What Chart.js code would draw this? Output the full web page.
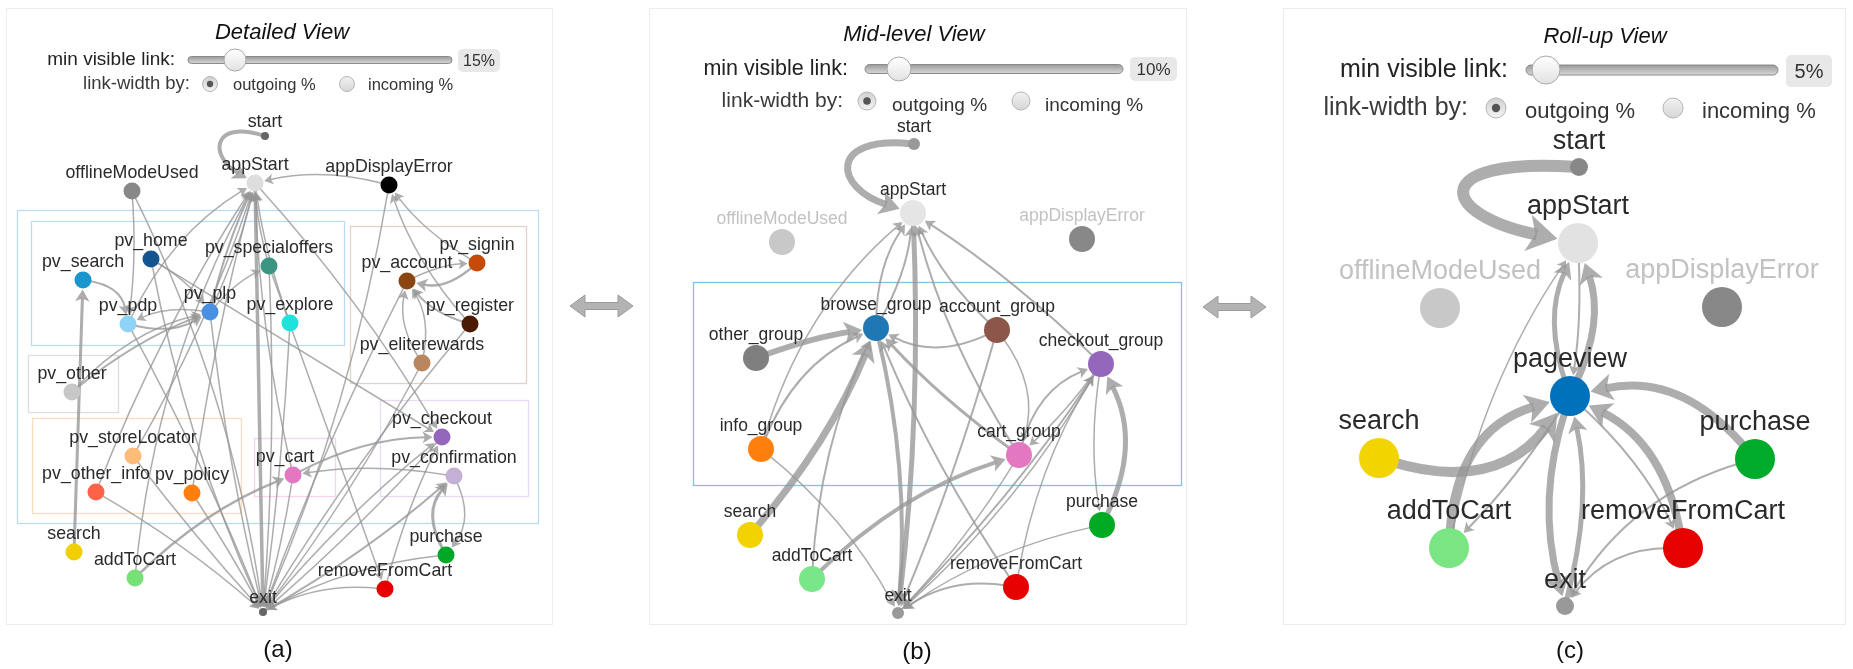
<!DOCTYPE html>
<html><head><meta charset="utf-8">
<script src="https://cdn.jsdelivr.net/npm/chart.js@4.4.1/dist/chart.umd.min.js"></script>
<style>html,body{margin:0;padding:0;background:#fff;overflow:hidden}canvas{display:block}</style>
</head><body>
<canvas id="c" width="1853" height="669"></canvas>
<script>
// ---------------- DATA ----------------
// Panel (a) Detailed View: node names and layout coordinates
const namesA = ['start','appStart','offlineModeUsed','appDisplayError','pv_home','pv_search','pv_specialoffers','pv_plp','pv_pdp','pv_explore','pv_signin','pv_account','pv_register','pv_eliterewards','pv_other','pv_storeLocator','pv_other_info','pv_policy','pv_cart','pv_checkout','pv_confirmation','search','addToCart','purchase','removeFromCart','exit'];
const xA = [265,255,132,389,151,83,269,210,128,290,477,407,470,422,72,133,96,192,293,442,454,74,135,446,385,263];
const yA = [136,183,191,185,259,280,266,312,324,323,263,281,324,363,392,456,492,493,475,437,476,552,578,555,589,612];
// links: [from, to, link share]
const linksA = [
 ['start','appStart',4],['appDisplayError','appStart',1.5],['offlineModeUsed','pv_pdp',1.5],['offlineModeUsed','exit',1.5],
 ['pv_home','pv_plp',1.5],['pv_home','exit',1.5],['pv_home','pv_checkout',1.5],['pv_search','pv_pdp',2],['search','pv_search',3],
 ['pv_pdp','pv_plp',2],['pv_plp','pv_pdp',1.5],['pv_plp','pv_specialoffers',1.5],['pv_pdp','appStart',1.5],['pv_plp','appStart',2],
 ['pv_plp','appStart',1.5],['pv_specialoffers','appStart',1.5],['pv_explore','appStart',1.5],['pv_other','pv_plp',2],['pv_other','pv_plp',1.5],
 ['pv_other_info','appStart',1.5],['pv_storeLocator','appStart',1.5],['pv_policy','appStart',1.5],['pv_cart','appStart',1.5],['addToCart','appStart',1.5],
 ['appStart','exit',3.5],['pv_pdp','exit',1.5],['pv_plp','exit',1.5],['pv_other_info','exit',1.5],['pv_policy','exit',1.5],['pv_storeLocator','exit',1.5],
 ['pv_specialoffers','exit',1.5],['pv_explore','exit',1.5],['pv_cart','exit',1.5],['pv_account','exit',1.5],['pv_eliterewards','exit',1.5],
 ['pv_checkout','exit',1.5],['pv_register','exit',1.5],['appDisplayError','exit',1.5],['exit','pv_confirmation',2],
 ['pv_signin','appDisplayError',1.5],['pv_register','appDisplayError',1.5],['pv_signin','pv_account',2.5],['pv_account','pv_signin',1.5],
 ['pv_register','pv_account',2],['pv_eliterewards','pv_account',1.5],['pv_eliterewards','pv_account',1.5],['pv_specialoffers','removeFromCart',1.5],
 ['appStart','pv_checkout',1.5],['pv_cart','pv_checkout',2],['pv_confirmation','pv_cart',1.5],['addToCart','pv_cart',2.5],
 ['purchase','pv_confirmation',3],['pv_confirmation','purchase',1.5],['purchase','exit',1.5],['removeFromCart','exit',1.5],
 ['removeFromCart','pv_checkout',1.5],['exit','pv_checkout',1.5]
];

// Panel (b) Mid-level View
const namesB = ['start','appStart','offlineModeUsed','appDisplayError','browse_group','account_group','other_group','checkout_group','info_group','cart_group','search','purchase','addToCart','removeFromCart','exit'];
const xB = [914,913,782,1082,876,997,756,1101,761,1019,750,1102,812,1016,898];
const yB = [144,213,242,239,328,330,358,364,449,455,535,525,579,587,613];
const linksB = [
 ['start','appStart',7],['browse_group','appStart',2],['browse_group','appStart',2],['info_group','appStart',1.5],['account_group','appStart',2],
 ['checkout_group','appStart',2],['cart_group','appStart',2],['appStart','exit',5],['browse_group','exit',4],['other_group','browse_group',6],
 ['info_group','browse_group',2],['search','browse_group',7],['addToCart','browse_group',2],['addToCart','cart_group',4],
 ['account_group','browse_group',2],['account_group','exit',2],['account_group','cart_group',1.5],['cart_group','browse_group',3],
 ['cart_group','checkout_group',2],['checkout_group','cart_group',1.5],['cart_group','exit',1.5],['info_group','exit',1.5],
 ['purchase','checkout_group',5],['purchase','exit',1.5],['removeFromCart','browse_group',2],['removeFromCart','exit',2],
 ['removeFromCart','checkout_group',1.5],['exit','checkout_group',2],['checkout_group','exit',1.5],['checkout_group','purchase',1.5]
];

// Panel (c) Roll-up View
const namesC = ['start','appStart','offlineModeUsed','appDisplayError','pageview','search','addToCart','purchase','removeFromCart','exit'];
const xC = [1579,1578,1440,1722,1570,1379,1449,1755,1683,1565];
const yC = [167,243,308,307,396,458,548,459,548,606];
const linksC = [
 ['start','appStart',12],['pageview','appStart',5],['pageview','appStart',7],['appStart','pageview',2],['search','pageview',10],
 ['addToCart','pageview',9],['pageview','addToCart',2],['pageview','exit',7],['exit','pageview',5],['purchase','pageview',8],
 ['removeFromCart','pageview',8],['removeFromCart','exit',2],['purchase','exit',2],['pageview','removeFromCart',2],['addToCart','appStart',1.5]
];

// slider / radio values shown in each view
const viewTitles = ['Detailed View','Mid-level View','Roll-up View'];
const minLinkValues = ['15%','10%','5%'];
const captions = ['(a)','(b)','(c)'];

// ---------------- STYLES ----------------
const colorsA = ['#666666','#dddddd','#888888','#000000','#14558f','#1a95cd','#3b9583','#4a90e2','#8fd4f7','#1ee3dc','#c64a08','#8b4513','#4a1a04','#b9875f','#c7c7c7','#ffbb78','#ff6347','#ff7f0e','#e377c2','#9467bd','#c5b0d5','#f0d000','#77e077','#00a827','#e60000','#666666'];
const colorsB = ['#999999','#e5e5e5','#c8c8c8','#888888','#1f77b4','#8c564b','#7f7f7f','#9467bd','#ff7f0e','#e377c2','#f2d300','#00aa22','#7ae68a','#e60000','#999999'];
const colorsC = ['#888888','#e2e2e2','#c8c8c8','#888888','#0072bb','#f2d400','#7ae582','#00aa2b','#e60000','#999999'];
const bendsA = [-1.15,-0.12,0.05,0.08,0.1,-0.06,0,0.35,0,-0.2,-0.15,0.1,0.15,0.05,-0.05,0.05,0.05,0.08,0.15,0.05,-0.05,0.03,0.05,0.1,
 0,0.03,-0.03,0.05,0.02,-0.02,0.03,0.02,0.03,-0.03,0.04,0.03,-0.04,0.06,-0.05,0.1,0.1,0.25,0.1,0.15,0.2,-0.2,0,0.05,0.12,-0.08,0.1,0.35,0.3,-0.1,-0.15,0.05,0.05];
const bendsB = [-1.25,0.15,-0.1,0.15,0.1,-0.05,0.08,0.04,0.08,0.05,0.2,-0.08,0.1,0.12,0.25,0.03,0.25,0.05,0.25,0.05,0.05,0.1,-0.25,-0.1,0.05,-0.2,0.1,-0.05,0.08,-0.08];
const bendsC = [-2.0,0.2,-0.2,0.05,-0.35,0.35,0.05,-0.15,-0.12,-0.3,-0.25,-0.25,-0.2,0.1,0.1];
const smallNodes = ['start','exit'];
const fadedNodes = ['offlineModeUsed','appDisplayError'];
const FONT = '"Liberation Sans", Arial, Helvetica, sans-serif';
const EDGE = 'rgba(150,150,150,0.78)';

const panels = [
 {names:namesA, xs:xA, ys:yA, links:linksA, bends:bendsA, colors:colorsA, r:8.5, rs:4, lf:17.8, lo:18, los:14, fade:false,
  frame:[6,8,552,624], title:[282,33], sl:{lx:175,y:60,f:19,x1:188,x2:452,k:235,kr:11,th:7,b:[458,49,500,72],bf:16},
  rd:{lx:190,y:84,f:18.5,r1:210,r2:347,t1:233,t2:368,of:16.5,rr:7.5,oy:85}, cap:[278,650],
  boxes:[[17,210,538,523,'#b9dcf2'],[31,221,344,345,'#b9dcf2'],[350,226,526,383,'#e3d2cb'],[28,355,118,412,'#dddddd'],[32,418,241,513,'#fddcb8'],[254,438,335,496,'#f7d3ec'],[380,400,528,496,'#e6dbf2']]},
 {names:namesB, xs:xB, ys:yB, links:linksB, bends:bendsB, colors:colorsB, r:13, rs:6, lf:17.5, lo:23, los:17, fade:true,
  frame:[649,8,1186,624], title:[914,35], sl:{lx:848,y:69,f:21.5,x1:865,x2:1123,k:899,kr:12,th:9,b:[1130,57,1177,81],bf:17},
  rd:{lx:843,y:101,f:21,r1:867,r2:1021,t1:892,t2:1045,of:19,rr:9,oy:106}, cap:[917,652],
  boxes:[[693,282,1181,485,'#86bfe4']]},
 {names:namesC, xs:xC, ys:yC, links:linksC, bends:bendsC, colors:colorsC, r:20, rs:9, lf:27, lo:36, los:25, fade:true,
  frame:[1283,8,1845,624], title:[1605,37], sl:{lx:1508,y:70,f:25,x1:1526,x2:1778,k:1546,kr:14,th:10,b:[1786,55,1832,87],bf:20},
  rd:{lx:1468,y:108,f:25,r1:1496,r2:1673,t1:1525,t2:1702,of:22,rr:10,oy:112}, cap:[1570,651],
  boxes:[]}
];

// ---------------- DRAWING ----------------
function rr(ctx,x,y,w,h,r){ctx.beginPath();ctx.moveTo(x+r,y);ctx.arcTo(x+w,y,x+w,y+h,r);ctx.arcTo(x+w,y+h,x,y+h,r);ctx.arcTo(x,y+h,x,y,r);ctx.arcTo(x,y,x+w,y,r);ctx.closePath();}

function drawDoubleArrow(ctx,x1,x2,y){
  const sh=3.5, hh=11, hl=15;
  ctx.save();ctx.beginPath();
  ctx.moveTo(x1,y);ctx.lineTo(x1+hl,y-hh);ctx.lineTo(x1+hl,y-sh);ctx.lineTo(x2-hl,y-sh);ctx.lineTo(x2-hl,y-hh);ctx.lineTo(x2,y);
  ctx.lineTo(x2-hl,y+hh);ctx.lineTo(x2-hl,y+sh);ctx.lineTo(x1+hl,y+sh);ctx.lineTo(x1+hl,y+hh);ctx.closePath();
  ctx.fillStyle='#b3b3b3';ctx.fill();ctx.strokeStyle='#9a9a9a';ctx.lineWidth=1;ctx.stroke();ctx.restore();
}

function drawRadio(ctx,x,y,r,checked){
  const g=ctx.createLinearGradient(0,y-r,0,y+r);
  g.addColorStop(0,checked?'#d0d0d0':'#f2f2f2');g.addColorStop(1,checked?'#f4f4f4':'#d6d6d6');
  ctx.beginPath();ctx.arc(x,y,r,0,Math.PI*2);ctx.fillStyle=g;ctx.fill();
  ctx.strokeStyle='#b5b5b5';ctx.lineWidth=1;ctx.stroke();
  if(checked){ctx.beginPath();ctx.arc(x,y,r*0.42,0,Math.PI*2);ctx.fillStyle='#555';ctx.fill();}
}

const chromePlugin = {
  id:'chrome',
  beforeDatasetsDraw(chart){
    const ctx=chart.ctx;
    ctx.save();
    panels.forEach((p,i)=>{
      const f=p.frame;
      ctx.strokeStyle='#ececec';ctx.lineWidth=1;ctx.strokeRect(f[0]+0.5,f[1]+0.5,f[2]-f[0],f[3]-f[1]);
      p.boxes.forEach(b=>{ctx.strokeStyle=b[4];ctx.lineWidth=1.3;ctx.strokeRect(b[0]+0.5,b[1]+0.5,b[2]-b[0],b[3]-b[1]);});
      ctx.fillStyle='#111';ctx.font='italic 22px '+FONT;ctx.textAlign='center';ctx.textBaseline='middle';
      ctx.fillText(viewTitles[i],p.title[0],p.title[1]);
      const s=p.sl;
      ctx.font=s.f+'px '+FONT;ctx.textAlign='right';ctx.fillStyle='#222';
      ctx.fillText('min visible link:',s.lx,s.y);
      const g=ctx.createLinearGradient(0,s.y-s.th/2,0,s.y+s.th/2);
      g.addColorStop(0,'#9a9a9a');g.addColorStop(1,'#d8d8d8');
      rr(ctx,s.x1,s.y-s.th/2,s.x2-s.x1,s.th,s.th/2);ctx.fillStyle=g;ctx.fill();ctx.strokeStyle='#8a8a8a';ctx.lineWidth=1;ctx.stroke();
      const kg=ctx.createLinearGradient(0,s.y-s.kr,0,s.y+s.kr);kg.addColorStop(0,'#ffffff');kg.addColorStop(1,'#e2e2e2');
      ctx.beginPath();ctx.arc(s.k,s.y,s.kr,0,Math.PI*2);ctx.fillStyle=kg;ctx.fill();ctx.strokeStyle='#a8a8a8';ctx.stroke();
      const b=s.b;rr(ctx,b[0],b[1],b[2]-b[0],b[3]-b[1],5);ctx.fillStyle='#e8e8e8';ctx.fill();
      ctx.fillStyle='#333';ctx.font=s.bf+'px '+FONT;ctx.textAlign='center';ctx.fillText(minLinkValues[i],(b[0]+b[2])/2,(b[1]+b[3])/2+1);
      const r=p.rd;
      ctx.font=r.f+'px '+FONT;ctx.textAlign='right';ctx.fillStyle='#3a3a3a';ctx.fillText('link-width by:',r.lx,r.y);
      drawRadio(ctx,r.r1,r.y,r.rr,true);drawRadio(ctx,r.r2,r.y,r.rr,false);
      ctx.font=r.of+'px '+FONT;ctx.textAlign='left';ctx.fillStyle='#333';
      ctx.fillText('outgoing %',r.t1,r.oy);ctx.fillText('incoming %',r.t2,r.oy);
      ctx.font='24px '+FONT;ctx.textAlign='center';ctx.fillStyle='#111';ctx.fillText(captions[i],p.cap[0],p.cap[1]);
    });
    drawDoubleArrow(ctx,570,633,306);
    drawDoubleArrow(ctx,1203,1266,307);
    ctx.restore();
  }
};

const edgePlugin = {
  id:'edges',
  beforeDatasetsDraw(chart){
    const ctx=chart.ctx, sx=chart.scales.x, sy=chart.scales.y;
    ctx.save();ctx.strokeStyle=EDGE;ctx.fillStyle=EDGE;ctx.lineCap='butt';
    panels.forEach(p=>{
      p.links.forEach((e,i)=>{
        const a=p.names.indexOf(e[0]), b=p.names.indexOf(e[1]);
        const ra=smallNodes.includes(e[0])?p.rs:p.r, rb=smallNodes.includes(e[1])?p.rs:p.r;
        const Sx=sx.getPixelForValue(p.xs[a]), Sy=sy.getPixelForValue(p.ys[a]);
        const Dx=sx.getPixelForValue(p.xs[b]), Dy=sy.getPixelForValue(p.ys[b]);
        const dx=Dx-Sx, dy=Dy-Sy, L=Math.hypot(dx,dy);
        const px=dy/L, py=-dx/L;
        const bend=p.bends[i]||0;
        const w=e[2];
        const loop=Math.abs(bend)>=1;
        let C1x,C1y,C2x,C2y;
        if(loop){
          C1x=Sx+px*bend*L-0.1*dx; C1y=Sy+py*bend*L-0.1*dy;
          C2x=Dx+px*bend*L*0.92-0.35*dx; C2y=Dy+py*bend*L*0.92-0.35*dy;
        } else {
          C1x=C2x=(Sx+Dx)/2+px*bend*L; C1y=C2y=(Sy+Dy)/2+py*bend*L;
        }
        let ux=C1x-Sx, uy=C1y-Sy, ul=Math.hypot(ux,uy)||1;
        const S2x=Sx+ux/ul*ra*0.6, S2y=Sy+uy/ul*ra*0.6;
        let vx=Dx-C2x, vy=Dy-C2y, vl=Math.hypot(vx,vy)||1; vx/=vl; vy/=vl;
        const tx=Dx-vx*(rb+1), ty=Dy-vy*(rb+1);
        const al=6+w*2, aw=3.5+w*1.25;
        const bx=tx-vx*al*0.7, by=ty-vy*al*0.7;
        ctx.lineWidth=w;
        ctx.beginPath();ctx.moveTo(S2x,S2y);
        if(loop) ctx.bezierCurveTo(C1x,C1y,C2x,C2y,bx,by); else ctx.quadraticCurveTo(C1x,C1y,bx,by);
        ctx.stroke();
        ctx.beginPath();ctx.moveTo(tx,ty);
        ctx.lineTo(tx-vx*al+vy*aw,ty-vy*al-vx*aw);
        ctx.lineTo(tx-vx*al*0.75,ty-vy*al*0.75);
        ctx.lineTo(tx-vx*al-vy*aw,ty-vy*al+vx*aw);
        ctx.closePath();ctx.fill();
      });
    });
    ctx.restore();
  }
};

const labelPlugin = {
  id:'labels',
  afterDatasetsDraw(chart){
    const ctx=chart.ctx, sx=chart.scales.x, sy=chart.scales.y;
    ctx.save();ctx.textAlign='center';ctx.textBaseline='middle';
    panels.forEach(p=>{
      ctx.font=p.lf+'px '+FONT;
      p.names.forEach((n,i)=>{
        const off=smallNodes.includes(n)?p.los:p.lo;
        ctx.fillStyle=(p.fade&&fadedNodes.includes(n))?'#c2c2c2':'#2a2a2a';
        const lx=sx.getPixelForValue(p.xs[i])+(n==='pv_cart'?-8:0);
        ctx.fillText(n,lx,sy.getPixelForValue(p.ys[i])-off);
      });
    });
    ctx.restore();
  }
};

const datasets = panels.map((p,k)=>({
  label:viewTitles[k],
  data:p.names.map((n,i)=>({x:p.xs[i],y:p.ys[i]})),
  pointRadius:p.names.map(n=>smallNodes.includes(n)?p.rs:p.r),
  pointBackgroundColor:p.colors,
  pointBorderWidth:0,
  pointHoverRadius:0,
  showLine:false,
  clip:false
}));

new Chart(document.getElementById('c'),{
  type:'scatter',
  data:{datasets},
  options:{
    responsive:false,animation:false,events:[],
    layout:{padding:0,autoPadding:false},
    scales:{
      x:{type:'linear',min:0,max:1853,display:false},
      y:{type:'linear',min:0,max:669,reverse:true,display:false}
    },
    plugins:{legend:{display:false},tooltip:{enabled:false}}
  },
  plugins:[chromePlugin,edgePlugin,labelPlugin]
});
</script>
</body></html>
